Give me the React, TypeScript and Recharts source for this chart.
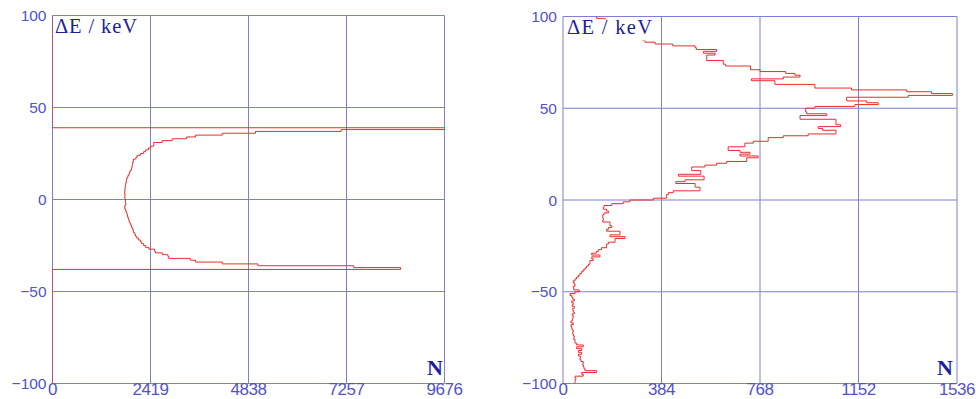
import React from 'react';
import { LineChart, Line, XAxis, YAxis, CartesianGrid } from 'recharts';

const binWidth = 1;

const energyTicks = [-100, -50, 0, 50, 100];

const leftCountTicks = [0, 2419, 4838, 7257, 9676];
const leftFirstBin = -38;
const leftCounts = [
    8590, 7435, 5070, 4190, 3530, 3400, 2870, 2850, 2710, 2540,
    2520, 2380, 2300, 2250, 2200, 2170, 2120, 2080, 2050, 2030,
    2000, 1990, 1970, 1950, 1930, 1910, 1890, 1880, 1860, 1850,
    1835, 1820, 1800, 1780, 1790, 1810, 1800, 1800, 1790, 1785,
    1790, 1780, 1785, 1790, 1795, 1800, 1810, 1820, 1826, 1840,
    1860, 1885, 1900, 1920, 1950, 1960, 1970, 1975, 1990, 2000,
    2060, 2090, 2170, 2250, 2300, 2370, 2420, 2500, 2500, 2710,
    2955, 3310, 3530, 4190, 5010, 7125, 9676,
];

const rightCountTicks = [0, 384, 768, 1152, 1536];
const rightFirstBin = -100;
const rightCounts = [
    47, 47, 50, 47, 79, 73, 131, 86, 82, 80,
    77, 79, 70, 66, 68, 60, 73, 60, 73, 53,
    79, 53, 47, 47, 42, 44, 40, 38, 40, 36,
    34, 31, 40, 31, 36, 38, 40, 36, 44, 40,
    38, 44, 36, 40, 34, 44, 38, 34, 27, 47,
    64, 42, 40, 47, 44, 40, 47, 53, 60, 66,
    73, 79, 86, 92, 99, 105, 105, 118, 112, 144,
    112, 130, 138, 150, 170, 170, 177, 203, 203, 242,
    183, 222, 222, 170, 177, 190, 183, 183, 155, 157,
    155, 155, 160, 177, 170, 157, 160, 190, 235, 261,
    352, 404, 404, 411, 430, 534, 534, 515, 515, 440,
    476, 550, 550, 450, 537, 537, 502, 502, 553, 599,
    638, 716, 716, 761, 690, 729, 690, 644, 644, 709,
    709, 742, 800, 800, 859, 956, 1064, 1064, 1012, 995,
    1082, 1064, 1064, 1064, 924, 924, 1028, 950, 946, 946,
    982, 1138, 1229, 1184, 1106, 1106, 1346, 1518, 1437, 1340,
    1125, 982, 982, 826, 826, 735, 859, 924, 904, 868,
    768, 731, 731, 634, 625, 625, 560, 560, 560, 593,
    547, 599, 520, 515, 428, 359, 320, 310, 300, 285,
    270, 230, 255, 240, 200, 215, 190, 175, 164, 131,
];

// one point per bin lower edge, drawn with stepBefore (vertical along the bin, then across)
const bins = (first: number, counts: number[]) =>
    counts.map((n, i) => ({ e: first + i * binWidth, n }));

const leftData = [
    { e: -100, n: 0 },
    ...bins(leftFirstBin, leftCounts),
    { e: leftFirstBin + leftCounts.length * binWidth, n: 0 },
    { e: 100, n: 0 },
];

const rightData = [
    ...bins(rightFirstBin, rightCounts),
    { e: rightFirstBin + rightCounts.length * binWidth, n: rightCounts[rightCounts.length - 1] },
];

const gridColor = '#7e7ed8';
const tickColor = '#5252cc';
const yTickStyle = { fill: tickColor, fontSize: 15.5, fontFamily: 'Liberation Sans' };
const fmt = (v: number) => (v < 0 ? '\u2212' + Math.abs(v) : String(v));

function XTick({ x, y, payload }: any) {
    return (
        <text
            x={x}
            y={y - 0.5}
            textAnchor="middle"
            dy="0.71em"
            fill={tickColor}
            fontSize={17}
            fontFamily="Liberation Sans"
            letterSpacing={-0.5}
        >
            {payload.value}
        </text>
    );
}

function Panel({ data, countTicks, width, margin }: any) {
    return (
        <LineChart layout="vertical" width={width} height={399} data={data} margin={margin}>
            <CartesianGrid stroke={gridColor} strokeWidth={1} />
            <XAxis
                type="number"
                domain={[0, countTicks[countTicks.length - 1]]}
                ticks={countTicks}
                allowDataOverflow
                interval={0}
                height={15.5}
                axisLine={false}
                tickLine={false}
                tickSize={0}
                tickMargin={0}
                tick={<XTick />}
            />
            <YAxis
                type="number"
                dataKey="e"
                domain={[-100, 100]}
                ticks={energyTicks}
                allowDataOverflow
                reversed
                interval={0}
                width={52}
                axisLine={false}
                tickLine={false}
                tickSize={0}
                tickMargin={6}
                tick={yTickStyle}
                tickFormatter={fmt}
            />
            <Line
                type="stepBefore"
                dataKey="n"
                stroke="#ee2a2a"
                strokeWidth={1}
                dot={false}
                activeDot={false}
                isAnimationActive={false}
            />
        </LineChart>
    );
}

export default function App() {
    const labelFont = { fontFamily: 'Liberation Serif', fill: '#1e1e9c' };
    return (
        <div style={{ position: 'absolute', left: 0, top: 0, width: 976, height: 399, background: '#fff' }}>
            <div style={{ position: 'absolute', left: 0, top: 0 }}>
                <Panel
                    data={leftData}
                    countTicks={leftCountTicks}
                    width={490}
                    margin={{ top: 15.5, right: 45.5, bottom: 0, left: 0.5 }}
                />
            </div>
            <div style={{ position: 'absolute', left: 511, top: 0 }}>
                <Panel
                    data={rightData}
                    countTicks={rightCountTicks}
                    width={465}
                    margin={{ top: 16.5, right: 19, bottom: 0, left: 0 }}
                />
            </div>
            <svg width={976} height={399} style={{ position: 'absolute', left: 0, top: 0, pointerEvents: 'none' }}>
                <rect x={54} y={18} width={88} height={22} fill="#fff" />
                <text x={55} y={33} fontSize={20.5} textLength={82} lengthAdjust="spacing" {...labelFont}>
                    ΔE / keV
                </text>
                <text x={427} y={375} fontSize={22} fontWeight="bold" {...labelFont}>
                    N
                </text>
                <rect x={564} y={19.5} width={96} height={21} fill="#fff" />
                <text x={567} y={34} fontSize={20.5} textLength={85} lengthAdjust="spacing" {...labelFont}>
                    ΔE / keV
                </text>
                <text x={937} y={375} fontSize={22} fontWeight="bold" {...labelFont}>
                    N
                </text>
            </svg>
        </div>
    );
}
